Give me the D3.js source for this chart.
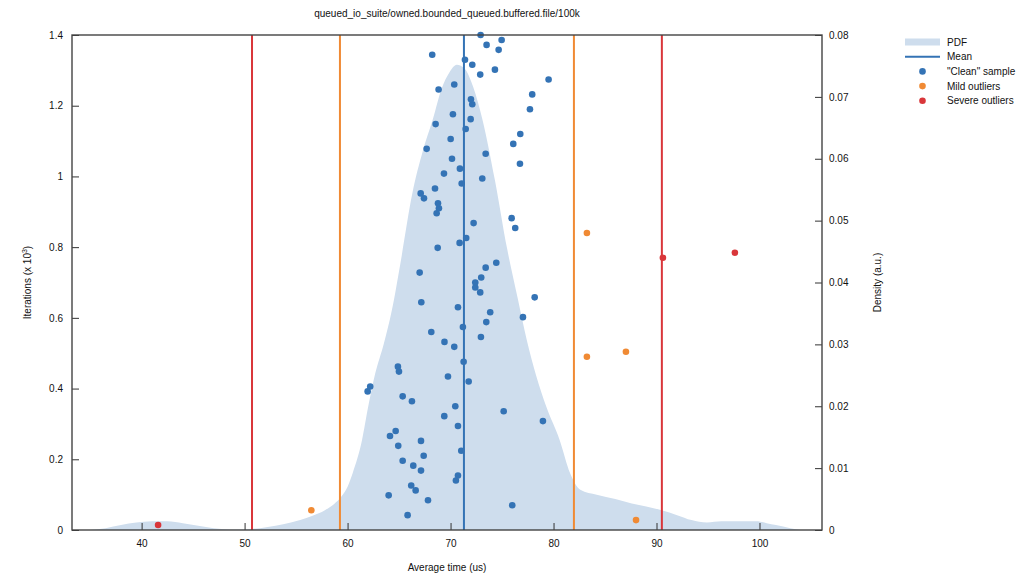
<!DOCTYPE html>
<html>
<head>
<meta charset="utf-8">
<script src="https://cdn.jsdelivr.net/npm/d3@7/dist/d3.min.js"></script>
<style>
  body { margin: 0; background: #fff; }
  svg { display: block; font-family: "Liberation Sans", Arial, Helvetica, sans-serif; }
  .tick text { font-size: 10px; fill: #111; }
  .tick line { stroke: #333; }
  .label { font-size: 10px; fill: #111; }
</style>
</head>
<body>
<script>
// *************************************************** //
// chart data
var chartTitle = "queued_io_suite/owned.bounded_queued.buffered.file/100k";

// "clean" samples: average time (us) and iterations (x 10^3)
var cleanTimes = [65.83, 75.99, 67.81, 63.99, 66.61, 66.18, 70.52, 70.72, 67.13, 66.38,
  65.35, 67.39, 71.04, 64.92, 67.13, 64.12, 64.67, 70.72, 78.97, 69.39,
  75.16, 70.46, 66.25, 65.35, 61.95, 62.20, 71.76, 69.75, 64.99, 64.89,
  71.27, 70.36, 69.41, 72.95, 68.13, 71.20, 73.47, 77.03, 73.85, 70.72,
  67.16, 78.17, 72.88, 72.40, 72.40, 72.98, 67.00, 73.41, 74.44, 68.75,
  70.88, 71.52, 76.28, 72.24, 75.93, 68.65, 68.87, 68.78, 67.42, 67.10,
  68.49, 71.08, 73.08, 69.36, 70.91, 76.74, 70.14, 73.41, 67.68, 76.09,
  70.01, 76.77, 71.47, 68.55, 71.95, 70.23, 77.71, 72.11, 71.98, 77.93,
  68.84, 70.36, 79.52, 72.88, 74.31, 72.11, 71.40, 68.22, 74.67, 73.50,
  74.96, 72.92];
var cleanIters = [0.042, 0.070, 0.084, 0.098, 0.112, 0.126, 0.140, 0.154, 0.168, 0.182,
  0.196, 0.210, 0.224, 0.238, 0.252, 0.266, 0.280, 0.294, 0.308, 0.322,
  0.336, 0.350, 0.364, 0.378, 0.392, 0.406, 0.420, 0.434, 0.448, 0.462,
  0.476, 0.518, 0.532, 0.546, 0.560, 0.574, 0.588, 0.602, 0.616, 0.630,
  0.644, 0.658, 0.672, 0.686, 0.700, 0.714, 0.728, 0.742, 0.756, 0.798,
  0.812, 0.826, 0.854, 0.868, 0.882, 0.896, 0.910, 0.924, 0.938, 0.952,
  0.966, 0.980, 0.994, 1.008, 1.022, 1.036, 1.050, 1.064, 1.078, 1.092,
  1.106, 1.120, 1.134, 1.148, 1.162, 1.176, 1.190, 1.204, 1.218, 1.232,
  1.246, 1.260, 1.274, 1.288, 1.302, 1.316, 1.330, 1.344, 1.358, 1.372,
  1.386, 1.400];

// mild outliers
var mildTimes = [88.01, 56.48, 83.24, 87.03, 83.24];
var mildIters = [0.028, 0.056, 0.490, 0.504, 0.840];

// severe outliers
var severeTimes = [41.60, 90.62, 97.61];
var severeIters = [0.014, 0.770, 0.784];

// probability density estimate
var pdfTimes = [35.0, 36.5, 38.0, 39.5, 41.0, 42.5, 44.0, 45.5, 47.0, 48.5,
  50.0, 51.5, 53.0, 54.5, 55.4, 56.6, 57.8, 58.7, 59.4, 60.0,
  60.5, 61.4, 62.0, 62.7, 63.5, 64.3, 65.1, 66.3, 67.3, 68.3,
  69.1, 69.9, 70.6, 71.4, 72.2, 73.1, 74.3, 75.5, 76.5, 77.4,
  78.3, 79.3, 80.6, 81.6, 82.6, 84.2, 86.0, 87.6, 89.0, 90.5,
  92.0, 93.4, 94.9, 96.3, 98.0, 99.7, 100.7, 101.6, 103.0, 104.0];
var pdfDensity = [0, 0.0003, 0.0008, 0.0012, 0.0014, 0.0014, 0.0011, 0.0007, 0.0003, 0.0001,
  0.0001, 0.0003, 0.0007, 0.0012, 0.0016, 0.0023, 0.0032, 0.0042, 0.0054, 0.0070,
  0.0092, 0.0145, 0.0199, 0.0254, 0.0300, 0.0355, 0.0428, 0.0545, 0.0612, 0.0665,
  0.0712, 0.0740, 0.0752, 0.0745, 0.0716, 0.0663, 0.0566, 0.0454, 0.0376, 0.0307,
  0.0250, 0.0199, 0.0145, 0.0092, 0.0065, 0.0057, 0.0050, 0.0043, 0.0038, 0.0032,
  0.0024, 0.0016, 0.0012, 0.0014, 0.0014, 0.0014, 0.0011, 0.0008, 0.0003, 0];

// mean and outlier fences (us)
var meanTime = 71.30;
var mildFences = [59.26, 81.98];
var severeFences = [50.72, 90.52];

// axis ticks
var timeTicks = [40, 50, 60, 70, 80, 90, 100];
var iterTicks = [0, 0.2, 0.4, 0.6, 0.8, 1, 1.2, 1.4];
var densityTicks = [0, 0.01, 0.02, 0.03, 0.04, 0.05, 0.06, 0.07, 0.08];

// legend entries
var legendNames = ["PDF", "Mean", "\"Clean\" sample", "Mild outliers", "Severe outliers"];

// colours
var colBlue = "#3473b5",
    colOrange = "#f08a34",
    colRed = "#d9363a",
    colFill = "#cedded";

window.onload = drawChart;

// *************************************************** //
function drawChart(){
  var width = 1024,
      height = 587;

  // plot frame
  var left = 72, right = 822, top = 35, bottom = 530;

  var svg = d3.select("body")
    .append("svg")
    .attr("width", width)
    .attr("height", height);

  // scales
  var x = d3.scaleLinear()
    .domain([33.24, 106.07])
    .range([left, right]);
  var y = d3.scaleLinear()
    .domain([0, 1.4])
    .range([bottom, top]);
  var yDensity = d3.scaleLinear()
    .domain([0, 0.08])
    .range([bottom, top]);

  // PDF area
  var pdfData = pdfTimes.map(function(t, i){ return [t, pdfDensity[i]]; });
  var area = d3.area()
    .x(function(d){ return x(d[0]); })
    .y0(bottom)
    .y1(function(d){ return yDensity(d[1]); })
    .curve(d3.curveMonotoneX);

  svg.append("path")
    .datum(pdfData)
    .attr("fill", colFill)
    .attr("d", area);

  // fences and mean
  var vlines = [
    {v: severeFences[0], c: colRed},
    {v: severeFences[1], c: colRed},
    {v: mildFences[0], c: colOrange},
    {v: mildFences[1], c: colOrange},
    {v: meanTime, c: colBlue}
  ];
  svg.selectAll(".vline")
    .data(vlines)
    .enter()
    .append("line")
    .attr("class", "vline")
    .attr("x1", function(d){ return x(d.v); })
    .attr("x2", function(d){ return x(d.v); })
    .attr("y1", top)
    .attr("y2", bottom)
    .attr("stroke", function(d){ return d.c; })
    .attr("stroke-width", 2);

  // sample points
  function addPoints(times, iters, colour){
    svg.append("g")
      .selectAll("circle")
      .data(times)
      .enter()
      .append("circle")
      .attr("cx", function(d){ return x(d); })
      .attr("cy", function(d, i){ return y(iters[i]); })
      .attr("r", 3.3)
      .attr("fill", colour);
  }
  addPoints(cleanTimes, cleanIters, colBlue);
  addPoints(mildTimes, mildIters, colOrange);
  addPoints(severeTimes, severeIters, colRed);

  // axes, ticks pointing inward
  var fmt = d3.format("~g");
  svg.append("g")
    .attr("transform", "translate(0," + bottom + ")")
    .call(d3.axisBottom(x).tickValues(timeTicks).tickSize(-7).tickPadding(10).tickFormat(fmt))
    .call(function(g){ g.select(".domain").remove(); });
  svg.append("g")
    .attr("transform", "translate(" + left + ",0)")
    .call(d3.axisLeft(y).tickValues(iterTicks).tickSize(-7).tickPadding(9).tickFormat(fmt))
    .call(function(g){ g.select(".domain").remove(); });
  svg.append("g")
    .attr("transform", "translate(" + right + ",0)")
    .call(d3.axisRight(yDensity).tickValues(densityTicks).tickSize(-7).tickPadding(7).tickFormat(fmt))
    .call(function(g){ g.select(".domain").remove(); });

  // frame
  svg.append("rect")
    .attr("x", left)
    .attr("y", top)
    .attr("width", right - left)
    .attr("height", bottom - top)
    .attr("fill", "none")
    .attr("stroke", "#444")
    .attr("stroke-width", 1.4);

  // title and axis labels
  svg.append("text")
    .attr("class", "label")
    .attr("x", (left + right) / 2)
    .attr("y", 17)
    .attr("text-anchor", "middle")
    .text(chartTitle);

  svg.append("text")
    .attr("class", "label")
    .attr("x", (left + right) / 2)
    .attr("y", 571)
    .attr("text-anchor", "middle")
    .text("Average time (us)");

  var yLabel = svg.append("text")
    .attr("class", "label")
    .attr("transform", "translate(31," + ((top + bottom) / 2) + ") rotate(-90)")
    .attr("text-anchor", "middle");
  yLabel.append("tspan").text("Iterations (x 10");
  yLabel.append("tspan").attr("dy", -4).attr("font-size", "7px").text("3");
  yLabel.append("tspan").attr("dy", 4).text(")");

  svg.append("text")
    .attr("class", "label")
    .attr("transform", "translate(881," + ((top + bottom) / 2) + ") rotate(-90)")
    .attr("text-anchor", "middle")
    .text("Density (a.u.)");

  // legend
  var legend = svg.append("g")
    .attr("transform", "translate(905,42)");
  var rowGap = 14.7;

  legend.append("rect")
    .attr("x", 0).attr("y", -3.5)
    .attr("width", 35).attr("height", 7)
    .attr("fill", colFill);
  legend.append("line")
    .attr("x1", 0).attr("x2", 35)
    .attr("y1", rowGap).attr("y2", rowGap)
    .attr("stroke", colBlue).attr("stroke-width", 2);
  [colBlue, colOrange, colRed].forEach(function(c, i){
    legend.append("circle")
      .attr("cx", 17.5)
      .attr("cy", rowGap * (i + 2))
      .attr("r", 3.3)
      .attr("fill", c);
  });
  legend.selectAll(".legendText")
    .data(legendNames)
    .enter()
    .append("text")
    .attr("class", "label")
    .attr("x", 42)
    .attr("y", function(d, i){ return rowGap * i + 3.5; })
    .text(function(d){ return d; });
}
</script>
</body>
</html>
